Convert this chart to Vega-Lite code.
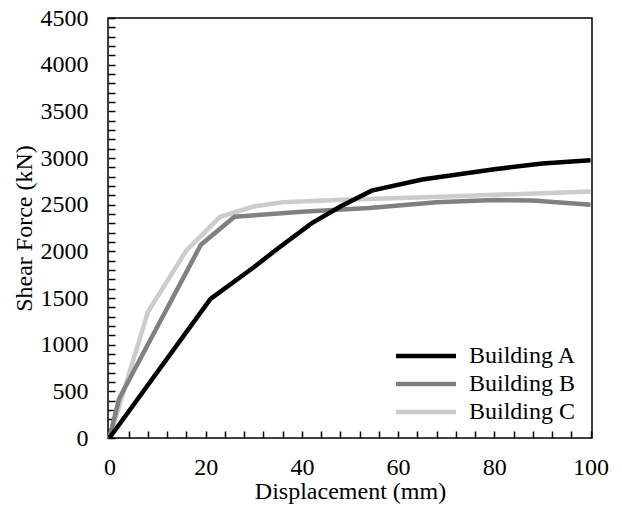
{
  "$schema": "https://vega.github.io/schema/vega-lite/v6.json",
  "width": 484,
  "height": 420,
  "autosize": "none",
  "padding": {"left": 108, "top": 18, "right": 30, "bottom": 71},
  "background": "white",
  "data": {
    "values": [
      {"building": "Building C", "d": 0, "F": 0},
      {"building": "Building C", "d": 8, "F": 1350},
      {"building": "Building C", "d": 16, "F": 2010},
      {"building": "Building C", "d": 23, "F": 2370},
      {"building": "Building C", "d": 30, "F": 2480},
      {"building": "Building C", "d": 36, "F": 2525},
      {"building": "Building C", "d": 50, "F": 2555},
      {"building": "Building C", "d": 69, "F": 2585},
      {"building": "Building C", "d": 80, "F": 2605},
      {"building": "Building C", "d": 100, "F": 2640},
      {"building": "Building B", "d": 0, "F": 0},
      {"building": "Building B", "d": 2, "F": 420},
      {"building": "Building B", "d": 19, "F": 2070},
      {"building": "Building B", "d": 26, "F": 2370},
      {"building": "Building B", "d": 40, "F": 2425},
      {"building": "Building B", "d": 54, "F": 2465},
      {"building": "Building B", "d": 68, "F": 2525},
      {"building": "Building B", "d": 80, "F": 2550},
      {"building": "Building B", "d": 88, "F": 2545},
      {"building": "Building B", "d": 100, "F": 2500},
      {"building": "Building A", "d": 0, "F": 0},
      {"building": "Building A", "d": 21, "F": 1490},
      {"building": "Building A", "d": 30, "F": 1830},
      {"building": "Building A", "d": 35, "F": 2030},
      {"building": "Building A", "d": 42, "F": 2300},
      {"building": "Building A", "d": 48, "F": 2480},
      {"building": "Building A", "d": 54.5, "F": 2650},
      {"building": "Building A", "d": 65, "F": 2770},
      {"building": "Building A", "d": 80, "F": 2880},
      {"building": "Building A", "d": 90, "F": 2940},
      {"building": "Building A", "d": 100, "F": 2975}
    ]
  },
  "mark": {"type": "line", "strokeWidth": 4.5},
  "encoding": {
    "x": {
      "field": "d",
      "type": "quantitative",
      "title": "Displacement (mm)",
      "scale": {"domain": [-0.3, 100.3], "nice": false},
      "axis": {
        "values": [0, 4, 8, 12, 16, 20, 24, 28, 32, 36, 40, 44, 48, 52, 56, 60, 64, 68, 72, 76, 80, 84, 88, 92, 96, 100],
        "labelExpr": "datum.value % 20 === 0 ? format(datum.value, 'd') : ''",
        "offset": -7,
        "domain": false,
        "tickSize": 7,
        "tickColor": "black",
        "tickWidth": 1.5,
        "labelPadding": 17,
        "titlePadding": 0
      }
    },
    "y": {
      "field": "F",
      "type": "quantitative",
      "title": "Shear Force (kN)",
      "scale": {"domain": [0, 4500], "nice": false},
      "axis": {
        "values": [0, 100, 200, 300, 400, 500, 600, 700, 800, 900, 1000, 1100, 1200, 1300, 1400, 1500, 1600, 1700, 1800, 1900, 2000, 2100, 2200, 2300, 2400, 2500, 2600, 2700, 2800, 2900, 3000, 3100, 3200, 3300, 3400, 3500, 3600, 3700, 3800, 3900, 4000, 4100, 4200, 4300, 4400, 4500],
        "labelExpr": "datum.value % 500 === 0 ? format(datum.value, 'd') : ''",
        "offset": -7,
        "domain": false,
        "tickSize": 7,
        "tickColor": "black",
        "tickWidth": 1.5,
        "labelPadding": 20,
        "titlePadding": 4
      }
    },
    "color": {
      "field": "building",
      "type": "nominal",
      "scale": {"domain": ["Building A", "Building B", "Building C"], "range": ["#000000", "#808080", "#cccccc"]},
      "legend": {
        "orient": "none",
        "legendX": 306,
        "legendY": 326,
        "title": null,
        "symbolType": "M-5,0H5",
        "symbolSize": 144,
        "symbolStrokeWidth": 4.5,
        "labelFontSize": 24,
        "labelFont": "Liberation Serif",
        "labelColor": "#000000",
        "labelOffset": 31,
        "rowPadding": 4
      }
    }
  },
  "config": {
    "font": "Liberation Serif",
    "view": {"stroke": "#000000", "strokeWidth": 1.5},
    "axis": {
      "grid": false,
      "labelFont": "Liberation Serif",
      "labelFontSize": 24,
      "labelColor": "#000000",
      "titleFont": "Liberation Serif",
      "titleFontSize": 24,
      "titleFontWeight": "normal",
      "titleColor": "#000000"
    }
  }
}
